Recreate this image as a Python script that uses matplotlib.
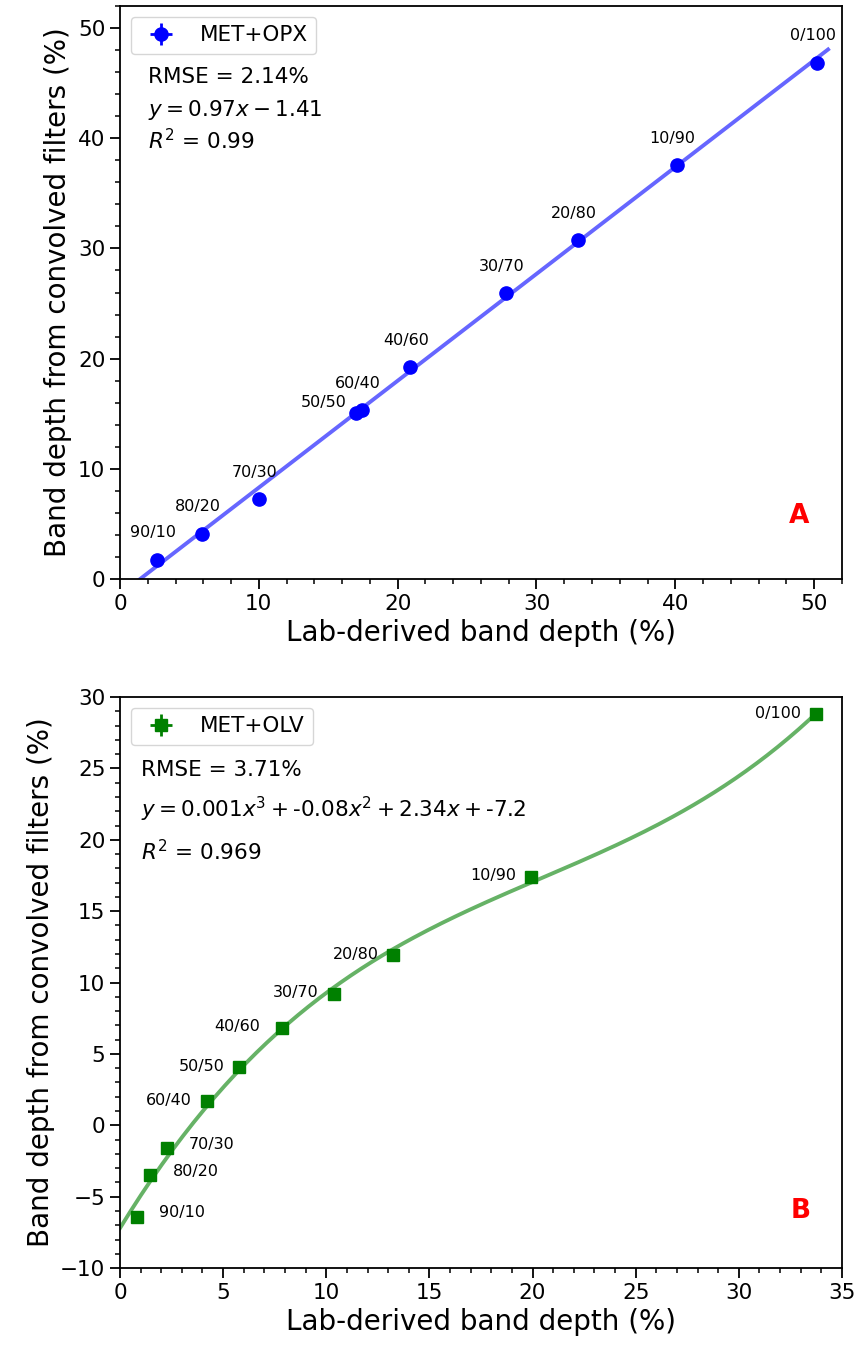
# Convolved-filter band depth vs. lab-derived band depth, two mixture series
import numpy as np
import matplotlib
matplotlib.use('Agg')
import matplotlib.pyplot as plt

plt.rcParams['font.family'] = ['DejaVu Sans']

# MET+OPX mixtures (panel A)
opx_labels = ['90/10', '80/20', '70/30', '50/50', '60/40', '40/60', '30/70', '20/80', '10/90', '0/100']
opx_lab = [2.7, 5.9, 10.0, 17.0, 17.4, 20.9, 27.8, 33.0, 40.1, 50.2]
opx_conv = [1.75, 4.1, 7.25, 15.05, 15.3, 19.2, 25.95, 30.75, 37.55, 46.85]
opx_fit = [0.97, -1.41]   # slope, intercept as printed
opx_rmse = 2.14
opx_r2 = 0.99

# MET+OLV mixtures (panel B)
olv_labels = ['90/10', '80/20', '70/30', '60/40', '50/50', '40/60', '30/70', '20/80', '10/90', '0/100']
olv_lab = [0.84, 1.48, 2.26, 4.23, 5.79, 7.85, 10.37, 13.26, 19.92, 33.74]
olv_conv = [-6.4, -3.5, -1.6, 1.7, 4.05, 6.85, 9.2, 11.9, 17.4, 28.8]
olv_rmse = 3.71
olv_r2 = 0.969

# label offsets in pixels (dx, dy, ha)
opx_offsets = [(-4, 27, 'center')] * 3 + [(-9, 11, 'right')] + [(-4, 27, 'center')] * 6
olv_offsets = [(22, 4, 'left')] * 3 + [(-15, 1, 'right')] * 2 + [(-22, 1, 'right')] + [(-15, 1, 'right')] * 4

fig = plt.figure(figsize=(8.6, 13.48), dpi=100)
ax1 = fig.add_axes([0.1395, 0.5705, 0.8395, 0.425])
ax2 = fig.add_axes([0.1395, 0.0593, 0.8395, 0.4236])

# ---- panel A: linear fit
xf1 = np.linspace(0, 51, 100)
ax1.plot(xf1, np.polyval(opx_fit, xf1), color='blue', alpha=0.6, lw=2.8, zorder=2)
ax1.errorbar(opx_lab, opx_conv, xerr=0, yerr=0, fmt='o', color='blue',
             markersize=9.5, elinewidth=2, label='MET+OPX', zorder=3)
for lab, x, y, (dx, dy, ha) in zip(opx_labels, opx_lab, opx_conv, opx_offsets):
    ax1.annotate(lab, (x, y), xytext=(dx, dy), textcoords='offset pixels',
                 ha=ha, va='center', fontsize=11.5)

ax1.text(2, 45, 'RMSE = %.2f%%' % opx_rmse, fontsize=15.5)
ax1.text(2, 42, r'$y = %.2fx - %.2f$' % (opx_fit[0], -opx_fit[1]), fontsize=15.5)
ax1.text(2, 39, r'$R^2$ = %.2f' % opx_r2, fontsize=15.5)
ax1.text(0.94, 0.11, 'A', transform=ax1.transAxes, color='red', fontsize=19,
         fontweight='bold', ha='center', va='center')
ax1.set_xlim(0, 52)
ax1.set_ylim(0, 52)

# ---- panel B: cubic fit
p2 = np.polyfit(olv_lab, olv_conv, 3)
xf2 = np.linspace(0, max(olv_lab), 200)
ax2.plot(xf2, np.polyval(p2, xf2), color='green', alpha=0.6, lw=2.8, zorder=2)
ax2.errorbar(olv_lab, olv_conv, xerr=0, yerr=0, fmt='s', color='green',
             markersize=8.6, elinewidth=2, label='MET+OLV', zorder=3)
for lab, x, y, (dx, dy, ha) in zip(olv_labels, olv_lab, olv_conv, olv_offsets):
    ax2.annotate(lab, (x, y), xytext=(dx, dy), textcoords='offset pixels',
                 ha=ha, va='center', fontsize=11.5)

ax2.text(1, 24.5, 'RMSE = %.2f%%' % olv_rmse, fontsize=15.5)
ax2.text(1, 21.55, r'$y = 0.001x^3 + $-$0.08x^2 + 2.34x + $-$7.2$', fontsize=15.5)
ax2.text(1, 18.6, r'$R^2$ = %.3f' % olv_r2, fontsize=15.5)
ax2.text(0.943, 0.1, 'B', transform=ax2.transAxes, color='red', fontsize=19,
         fontweight='bold', ha='center', va='center')
ax2.set_xlim(0, 35)
ax2.set_ylim(-10, 30)

for ax in (ax1, ax2):
    ax.minorticks_on()
    ax.tick_params(which='major', length=7, width=1.3, labelsize=15.5)
    ax.tick_params(which='minor', length=3.5, width=1.1)
    for s in ax.spines.values():
        s.set_linewidth(1.3)
    ax.set_xlabel('Lab-derived band depth (%)', fontsize=20)
    ax.set_ylabel('Band depth from convolved filters (%)', fontsize=20)
    ax.legend(loc='upper left', fontsize=15.5)

fig.savefig('out.png', dpi=100)
